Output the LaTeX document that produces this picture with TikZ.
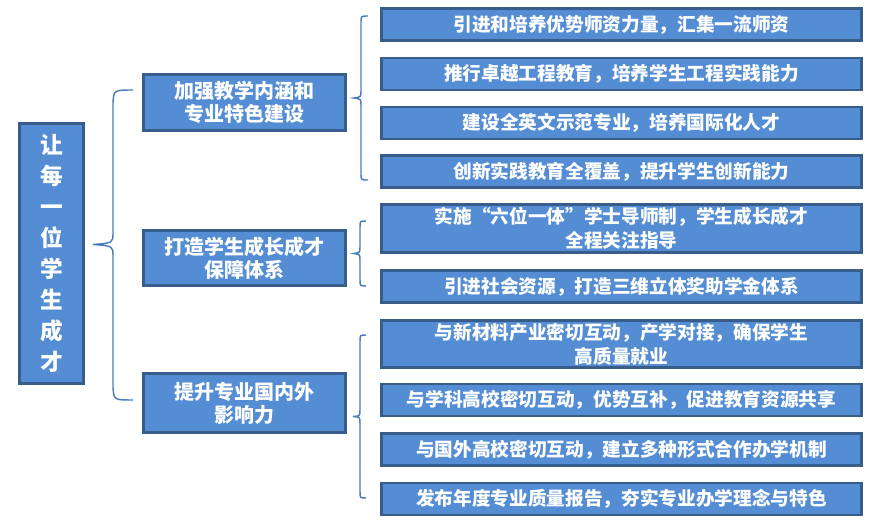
\documentclass[tikz,border=0pt]{standalone}
\usepackage{fontspec}
\setmainfont{Noto Sans CJK SC}
\usetikzlibrary{shapes}
\definecolor{boxfill}{RGB}{84,141,212}
\definecolor{boxline}{RGB}{56,93,138}
\definecolor{braceline}{RGB}{74,126,187}
\tikzset{frame/.style = {rectangle, draw=boxline, fill=boxfill, line width=2.2pt,
    text=white, align=center, inner sep=1pt},
  root/.style = {frame, minimum width=48pt, minimum height=195pt,
    font=\bfseries\fontsize{17}{23.25}\selectfont},
  goal/.style = {frame, minimum width=151.5pt, minimum height=42pt,
    font=\bfseries\fontsize{15}{17.25}\selectfont},
  item/.style = {frame, minimum width=360pt, minimum height=24pt,
    font=\bfseries\fontsize{14}{18}\selectfont},
  twoline/.style = {minimum height=35.5pt},
  brace/.style = {draw=braceline, line width=1.1pt}}
\begin{document}
\begin{tikzpicture}[x=0.75pt,y=-0.75pt]
  \useasboundingbox (0,0) rectangle (882,527);

  \node[root] (root) at (51.5,253.5) {让\\每\\一\\位\\学\\生\\成\\才};

  \node[goal] (goal1) at (244.5,102.5) {加强教学内涵和\\专业特色建设};
  \node[goal, minimum height=41.25pt] (goal2) at (244.5,258) {打造学生成长成才\\保障体系};
  \node[goal, minimum height=44.25pt] (goal3) at (244.5,403) {提升专业国内外\\影响力};

  \node[item] (item1) at (621.5,24.5) {引进和培养优势师资力量，汇集一流师资};
  \node[item] (item2) at (621.5,74) {推行卓越工程教育，培养学生工程实践能力};
  \node[item] (item3) at (621.5,123) {建设全英文示范专业，培养国际化人才};
  \node[item] (item4) at (621.5,171.5) {创新实践教育全覆盖，提升学生创新能力};

  \node[item, twoline] (item5) at (621.5,228.5) {实施“六位一体”学士导师制，学生成长成才\\全程关注指导};
  \node[item] (item6) at (621.5,286.5) {引进社会资源，打造三维立体奖助学金体系};

  \node[item, twoline] (item7) at (621.5,344) {与新材料产业密切互动，产学对接，确保学生\\高质量就业};
  \node[item] (item8) at (621.5,400) {与学科高校密切互动，优势互补，促进教育资源共享};
  \node[item] (item9) at (621.5,449.5) {与国外高校密切互动，建立多种形式合作办学机制};
  \node[item] (item10) at (621.5,499) {发布年度专业质量报告，夯实专业办学理念与特色};

  % braces
  \draw[brace] (133,90) .. controls (114,90) .. (113,102) -- (113,233)
    .. controls (113,243) .. (93,244.5) .. controls (113,246) .. (113,256)
    -- (113,388) .. controls (114,400) .. (133,400);

  \draw[brace] (368,16) .. controls (361,16) .. (361,23) -- (361,91)
    .. controls (361,97) .. (354,98) .. controls (361,99) .. (361,105)
    -- (361,173) .. controls (361,180) .. (368,180);

  \draw[brace] (366,221) .. controls (360,221) .. (360,227) -- (360,247)
    .. controls (360,252.5) .. (354,253.5) .. controls (360,254.5) .. (360,260)
    -- (360,280) .. controls (360,286) .. (366,286);

  \draw[brace] (366,335) .. controls (360,335) .. (360,341) -- (360,410)
    .. controls (360,416) .. (353,416.5) .. controls (360,417) .. (360,423)
    -- (360,492) .. controls (360,498) .. (366,498);
\end{tikzpicture}
\end{document}
